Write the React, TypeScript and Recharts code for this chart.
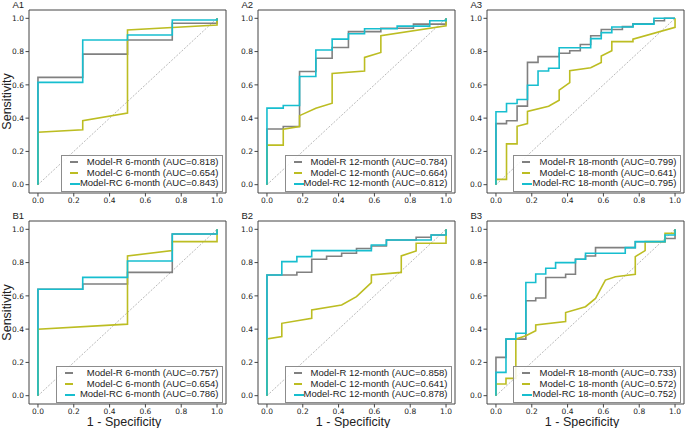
import { LineChart, Line, XAxis, YAxis, ReferenceArea } from 'recharts'

type Pt = [number, number]

const MODELS = ['Model-R', 'Model-C', 'Model-RC']
const COLORS = ['#808080', '#bcbd22', '#17becf']
const PERIODS = ['6-month', '12-month', '18-month']
const TITLES = ['A1', 'A2', 'A3', 'B1', 'B2', 'B3']
const TICKS = [0, 0.2, 0.4, 0.6, 0.8, 1.0]
const DIAG: Pt[] = [[0, 0], [1, 1]]

// AUC per panel, order R, C, RC
const AUC_A1 = [0.818, 0.654, 0.843]
const AUC_A2 = [0.784, 0.664, 0.812]
const AUC_A3 = [0.799, 0.641, 0.795]
const AUC_B1 = [0.757, 0.654, 0.786]
const AUC_B2 = [0.858, 0.641, 0.878]
const AUC_B3 = [0.733, 0.572, 0.752]

// ROC points [1 - specificity, sensitivity]
const A1_R: Pt[] = [[0, 0], [0, 0.645], [0.25, 0.645], [0.25, 0.785], [0.5, 0.785], [0.5, 0.87], [0.75, 0.87], [0.75, 0.97], [1, 0.97], [1, 1]]
const A1_C: Pt[] = [[0, 0], [0, 0.315], [0.25, 0.33], [0.25, 0.385], [0.5, 0.43], [0.5, 0.93], [1, 0.96], [1, 1]]
const A1_RC: Pt[] = [[0, 0], [0, 0.615], [0.25, 0.615], [0.25, 0.87], [0.5, 0.87], [0.5, 0.9], [0.75, 0.9], [0.75, 0.99], [1, 0.99], [1, 1]]

const A2_R: Pt[] = [[0, 0], [0, 0.335], [0.091, 0.335], [0.091, 0.35], [0.182, 0.35], [0.182, 0.68], [0.273, 0.68], [0.273, 0.76], [0.364, 0.76], [0.364, 0.825], [0.455, 0.825], [0.455, 0.92], [0.636, 0.92], [0.636, 0.94], [0.818, 0.94], [0.818, 0.965], [1, 0.965], [1, 1]]
const A2_C: Pt[] = [[0, 0], [0, 0.238], [0.091, 0.238], [0.091, 0.333], [0.182, 0.35], [0.182, 0.415], [0.273, 0.46], [0.364, 0.49], [0.364, 0.668], [0.545, 0.683], [0.545, 0.765], [0.636, 0.795], [0.636, 0.895], [1, 0.955], [1, 1]]
const A2_RC: Pt[] = [[0, 0], [0, 0.46], [0.091, 0.46], [0.091, 0.476], [0.182, 0.476], [0.182, 0.65], [0.273, 0.65], [0.273, 0.81], [0.364, 0.81], [0.364, 0.875], [0.455, 0.875], [0.455, 0.907], [0.545, 0.907], [0.545, 0.937], [0.727, 0.937], [0.727, 0.953], [0.909, 0.953], [0.909, 0.985], [1, 0.985], [1, 1]]

const A3_R: Pt[] = [[0, 0], [0, 0.367], [0.059, 0.367], [0.059, 0.384], [0.118, 0.384], [0.118, 0.472], [0.176, 0.472], [0.176, 0.735], [0.235, 0.735], [0.235, 0.77], [0.353, 0.77], [0.353, 0.79], [0.412, 0.79], [0.412, 0.805], [0.471, 0.805], [0.471, 0.843], [0.529, 0.843], [0.529, 0.895], [0.588, 0.895], [0.588, 0.933], [0.706, 0.933], [0.706, 0.95], [0.765, 0.95], [0.765, 0.967], [0.882, 0.967], [0.882, 0.985], [0.941, 0.985], [0.941, 1], [1, 1]]
const A3_C: Pt[] = [[0, 0], [0, 0.032], [0.059, 0.032], [0.059, 0.245], [0.118, 0.245], [0.118, 0.351], [0.176, 0.367], [0.176, 0.44], [0.294, 0.472], [0.353, 0.508], [0.353, 0.568], [0.412, 0.614], [0.412, 0.685], [0.529, 0.703], [0.588, 0.735], [0.588, 0.773], [0.647, 0.805], [0.647, 0.86], [0.765, 0.86], [0.765, 0.875], [1, 0.946], [1, 1]]
const A3_RC: Pt[] = [[0, 0], [0, 0.438], [0.059, 0.438], [0.059, 0.488], [0.118, 0.488], [0.118, 0.512], [0.176, 0.512], [0.176, 0.598], [0.235, 0.598], [0.235, 0.683], [0.294, 0.683], [0.294, 0.7], [0.353, 0.7], [0.353, 0.823], [0.529, 0.823], [0.529, 0.878], [0.588, 0.878], [0.588, 0.914], [0.647, 0.914], [0.647, 0.948], [0.765, 0.948], [0.765, 0.965], [0.882, 0.965], [0.882, 1], [1, 1]]

const B1_R: Pt[] = [[0, 0], [0, 0.64], [0.25, 0.64], [0.25, 0.671], [0.5, 0.671], [0.5, 0.741], [0.75, 0.741], [0.75, 0.972], [1, 0.972], [1, 1]]
const B1_C: Pt[] = [[0, 0], [0, 0.4], [0.5, 0.43], [0.5, 0.84], [0.75, 0.872], [0.75, 0.926], [1, 0.926], [1, 1]]
const B1_RC: Pt[] = [[0, 0], [0, 0.64], [0.25, 0.64], [0.25, 0.711], [0.5, 0.711], [0.5, 0.81], [0.75, 0.81], [0.75, 0.972], [1, 0.972], [1, 1]]

const B2_R: Pt[] = [[0, 0], [0, 0.725], [0.167, 0.725], [0.167, 0.742], [0.25, 0.742], [0.25, 0.82], [0.333, 0.82], [0.333, 0.838], [0.417, 0.838], [0.417, 0.856], [0.5, 0.856], [0.5, 0.885], [0.583, 0.885], [0.583, 0.9], [0.667, 0.9], [0.667, 0.936], [0.833, 0.936], [0.833, 0.952], [0.917, 0.952], [0.917, 0.966], [1, 0.966], [1, 1]]
const B2_C: Pt[] = [[0, 0], [0, 0.341], [0.083, 0.355], [0.083, 0.435], [0.25, 0.465], [0.25, 0.515], [0.417, 0.545], [0.5, 0.595], [0.583, 0.68], [0.583, 0.725], [0.75, 0.741], [0.75, 0.84], [0.833, 0.87], [0.833, 0.916], [1, 0.916], [1, 1]]
const B2_RC: Pt[] = [[0, 0], [0, 0.725], [0.083, 0.725], [0.083, 0.806], [0.167, 0.806], [0.167, 0.836], [0.25, 0.836], [0.25, 0.872], [0.583, 0.872], [0.583, 0.906], [0.667, 0.906], [0.667, 0.936], [0.917, 0.936], [0.917, 0.966], [1, 0.966], [1, 1]]

const B3_R: Pt[] = [[0, 0], [0, 0.23], [0.056, 0.23], [0.056, 0.34], [0.167, 0.34], [0.167, 0.571], [0.222, 0.571], [0.222, 0.587], [0.278, 0.587], [0.278, 0.71], [0.389, 0.71], [0.389, 0.73], [0.444, 0.73], [0.444, 0.82], [0.5, 0.82], [0.5, 0.84], [0.556, 0.84], [0.556, 0.89], [0.778, 0.89], [0.778, 0.925], [0.944, 0.925], [0.944, 0.945], [1, 0.945], [1, 1]]
const B3_C: Pt[] = [[0, 0], [0, 0.07], [0.056, 0.07], [0.056, 0.104], [0.111, 0.104], [0.111, 0.34], [0.167, 0.36], [0.222, 0.39], [0.222, 0.425], [0.389, 0.445], [0.389, 0.5], [0.5, 0.535], [0.556, 0.585], [0.611, 0.695], [0.667, 0.715], [0.778, 0.73], [0.778, 0.836], [0.833, 0.872], [0.833, 0.926], [0.944, 0.926], [0.944, 0.976], [1, 0.976], [1, 1]]
const B3_RC: Pt[] = [[0, 0], [0, 0.14], [0.056, 0.14], [0.056, 0.34], [0.111, 0.34], [0.111, 0.375], [0.167, 0.375], [0.167, 0.68], [0.222, 0.68], [0.222, 0.731], [0.278, 0.731], [0.278, 0.766], [0.333, 0.766], [0.333, 0.8], [0.444, 0.8], [0.444, 0.82], [0.5, 0.82], [0.5, 0.856], [0.722, 0.856], [0.722, 0.89], [0.778, 0.89], [0.778, 0.926], [0.944, 0.926], [0.944, 0.966], [1, 0.966], [1, 1]]

const FW = 197
const FH = 183
const FONT = '"Liberation Sans", Arial, sans-serif'

const toRows = (pts: Pt[]) => pts.map(([x, y]) => ({ x, y }))

type PanelProps = {
  idx: number
  fl: number
  ft: number
  curves: Pt[][]
  aucs: number[]
  period: string
  legendLeft: number
  showY: boolean
  showX: boolean
}

function Panel({ idx, fl, ft, curves, aucs, period, legendLeft, showY, showX }: PanelProps) {
  const tick = { fontSize: 7.5, fill: '#222', fontFamily: '"DejaVu Sans", sans-serif' }
  const legendTop = ft + FH - 1.5 - 37
  return (
    <>
      <div style={{ position: 'absolute', left: fl - 28, top: ft - 5 }}>
        <LineChart width={FW + 31} height={FH + 25} margin={{ top: 5, right: 3, left: 0, bottom: 0 }}>
          <XAxis
            dataKey="x"
            type="number"
            domain={[-0.05, 1.05]}
            allowDataOverflow
            ticks={TICKS}
            tickFormatter={(v: number) => v.toFixed(1)}
            tick={tick}
            tickSize={3.5}
            tickMargin={1}
            tickLine={{ stroke: '#444' }}
            axisLine={false}
            height={20}
          />
          <YAxis
            type="number"
            domain={[-0.05, 1.05]}
            allowDataOverflow
            ticks={TICKS}
            tickFormatter={(v: number) => v.toFixed(1)}
            tick={tick}
            tickSize={3.5}
            tickMargin={1.5}
            tickLine={{ stroke: '#444' }}
            axisLine={false}
            width={28}
          />
          <ReferenceArea x1={-0.05} x2={1.05} y1={-0.05} y2={1.05} fill="none" fillOpacity={0} stroke="#444" strokeWidth={1} />
          <Line data={toRows(DIAG)} dataKey="y" stroke="#999" strokeWidth={0.7} strokeDasharray="2 1.5" dot={false} isAnimationActive={false} />
          {curves.map((c, i) => (
            <Line key={MODELS[i]} data={toRows(c)} dataKey="y" type="linear" stroke={COLORS[i]} strokeWidth={1.6} dot={false} isAnimationActive={false} />
          ))}
        </LineChart>
      </div>
      <div style={{ position: 'absolute', left: fl - 16, top: ft - 10, fontSize: 9.5, lineHeight: '10px', fontFamily: FONT, color: '#222' }}>
        {TITLES[idx]}
      </div>
      <div
        style={{
          position: 'absolute',
          left: legendLeft,
          top: legendTop,
          width: fl + FW - 3 - legendLeft,
          height: 37,
          boxSizing: 'border-box',
          border: '1px solid #8c8c8c',
          background: 'rgba(255,255,255,0.85)',
        }}
      >
        {MODELS.map((m, i) => (
          <div key={m} style={{ position: 'absolute', top: 1.3 + i * 10.8, left: 0, right: 0, height: 10.8 }}>
            <div style={{ position: 'absolute', left: 8, top: 4.4, width: i === 2 ? 10 : 8, height: 2, background: COLORS[i] }} />
            <div style={{ position: 'absolute', right: 3, top: 0, fontSize: 9.5, lineHeight: '10.8px', fontFamily: FONT, color: '#222', whiteSpace: 'nowrap' }}>
              {`${m} ${period} (AUC=${aucs[i].toFixed(3)})`}
            </div>
          </div>
        ))}
      </div>
      {showY && (
        <div
          style={{
            position: 'absolute',
            left: 7 - 40,
            top: ft + FH / 2 - 6.5,
            width: 80,
            height: 13,
            lineHeight: '13px',
            textAlign: 'center',
            fontSize: 12.5,
            fontFamily: FONT,
            color: '#222',
            transform: 'rotate(-90deg)',
          }}
        >
          Sensitivity
        </div>
      )}
      {showX && (
        <div
          style={{
            position: 'absolute',
            left: fl + FW / 2 - 63,
            top: ft + FH + 12,
            width: 120,
            height: 12,
            lineHeight: '12px',
            textAlign: 'center',
            fontSize: 12.5,
            fontFamily: FONT,
            color: '#222',
          }}
        >
          1 - Specificity
        </div>
      )}
    </>
  )
}

export default function App() {
  const lefts = [28.5, 257.5, 486.5]
  const tops = [10, 221]
  return (
    <div style={{ position: 'absolute', left: 0, top: 0, width: 685, height: 428, background: '#fff', overflow: 'hidden' }}>
      <Panel idx={0} fl={lefts[0]} ft={tops[0]} curves={[A1_R, A1_C, A1_RC]} aucs={AUC_A1} period={PERIODS[0]} legendLeft={61} showY showX={false} />
      <Panel idx={1} fl={lefts[1]} ft={tops[0]} curves={[A2_R, A2_C, A2_RC]} aucs={AUC_A2} period={PERIODS[1]} legendLeft={285} showY={false} showX={false} />
      <Panel idx={2} fl={lefts[2]} ft={tops[0]} curves={[A3_R, A3_C, A3_RC]} aucs={AUC_A3} period={PERIODS[2]} legendLeft={513} showY={false} showX={false} />
      <Panel idx={3} fl={lefts[0]} ft={tops[1]} curves={[B1_R, B1_C, B1_RC]} aucs={AUC_B1} period={PERIODS[0]} legendLeft={56} showY showX />
      <Panel idx={4} fl={lefts[1]} ft={tops[1]} curves={[B2_R, B2_C, B2_RC]} aucs={AUC_B2} period={PERIODS[1]} legendLeft={285} showY={false} showX />
      <Panel idx={5} fl={lefts[2]} ft={tops[1]} curves={[B3_R, B3_C, B3_RC]} aucs={AUC_B3} period={PERIODS[2]} legendLeft={513} showY={false} showX />
    </div>
  )
}
